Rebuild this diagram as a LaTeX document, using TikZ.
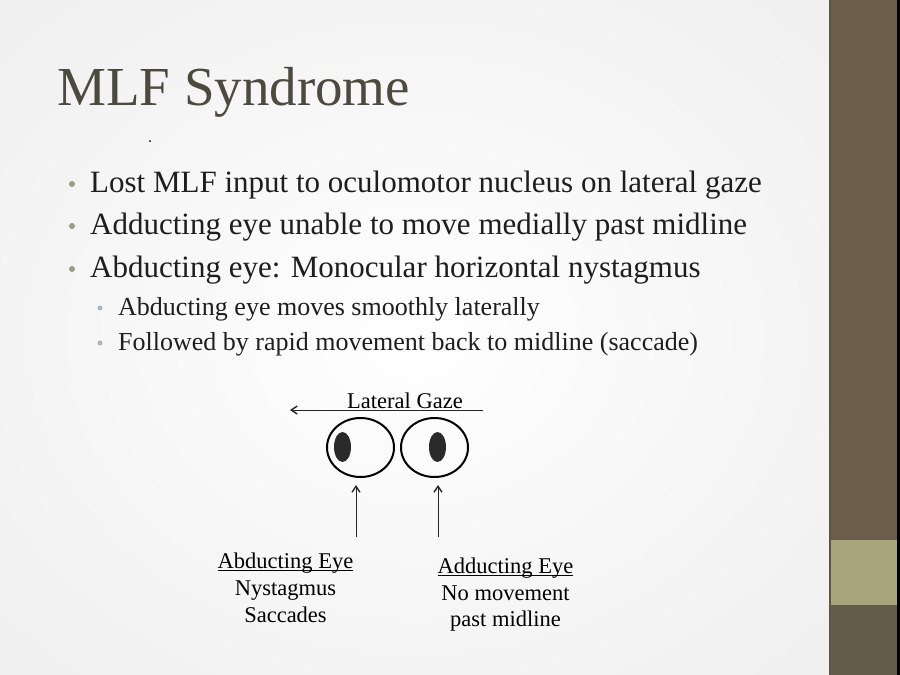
\documentclass[tikz,border=0pt]{standalone}
\usepackage{fontspec}
\setmainfont{Liberation Serif}
\usetikzlibrary{arrows.meta,shapes.geometric}
\definecolor{titlecol}{HTML}{4B4A3F}
\definecolor{bodycol}{HTML}{1E1E1E}
\definecolor{bulcol}{HTML}{9C9C82}
\definecolor{subbulcol}{HTML}{A6B8BF}
\definecolor{barcol}{HTML}{6A5E4B}
\definecolor{barlow}{HTML}{645C4A}
\definecolor{tancol}{HTML}{A8A57D}
\definecolor{edgecol}{HTML}{5A5545}
\definecolor{pupcol}{HTML}{2A2A2A}
\newcommand\myul[1]{\setbox0\hbox{#1}\rlap{\rule[-3pt]{\wd0}{0.9pt}}\box0}
\begin{document}
\begin{tikzpicture}[x=1pt,y=-1pt,
  titletext/.style={anchor=base west,inner sep=0pt,text=titlecol,font=\fontsize{55}{60}\selectfont},
  bultext/.style={anchor=base west,inner sep=0pt,text=bodycol,font=\fontsize{31}{36}\selectfont},
  subtext/.style={anchor=base west,inner sep=0pt,text=bodycol,font=\fontsize{26}{30}\selectfont},
  bigdot/.style={circle,fill=bulcol,inner sep=0pt,minimum size=6pt},
  smalldot/.style={circle,fill=subbulcol,inner sep=0pt,minimum size=5pt},
  labtext/.style={anchor=base,inner sep=0pt,text=black,font=\fontsize{22.5}{26}\selectfont},
  eyeball/.style={ellipse,draw=black,line width=2pt,minimum width=67pt,minimum height=59pt,inner sep=0pt},
  pupil/.style={ellipse,fill=pupcol,minimum width=17pt,minimum height=30pt,inner sep=0pt},
  thinarrow/.style={line width=1pt,draw=black!85,-{Straight Barb[length=6pt,width=8pt,line width=1.4pt]}}
]
\useasboundingbox (0,0) rectangle (900,675);
% background
\fill[white] (0,0) rectangle (830,675);
\shade[inner color=white,outer color=black!6] (-150,-120) rectangle (980,795);
\fill[barcol] (830,0) rectangle (897,540);
\fill[tancol] (830,540) rectangle (897,605);
\fill[barlow] (830,605) rectangle (897,675);
\fill[edgecol] (829,0) rectangle (831,675);
\fill[black] (897,0) rectangle (900,675);
% title
\node[titletext] (title) at (57,105) {MLF Syndrome};
\fill[black] (150,141) circle (1pt);
% bullets
\node[bigdot] (d1) at (72,184) {};
\node[bultext] (b1) at (90,192) {Lost MLF input to oculomotor nucleus on lateral gaze};
\node[bigdot] (d2) at (72,226) {};
\node[bultext] (b2) at (90,234) {Adducting eye unable to move medially past midline};
\node[bigdot] (d3) at (72,269) {};
\node[bultext] (b3) at (90,277) {Abducting eye: Monocular horizontal nystagmus};
\node[smalldot] (s1) at (100,308) {};
\node[subtext] (t1) at (118,315) {Abducting eye moves smoothly laterally};
\node[smalldot] (s2) at (100,343) {};
\node[subtext] (t2) at (118,350) {Followed by rapid movement back to midline (saccade)};
% diagram
\node[labtext] (gaze) at (405,408) {Lateral Gaze};
\coordinate (gazeR) at (483,410);
\coordinate (gazeL) at (290,410);
\draw[thinarrow] (gazeR) -- (gazeL);
\node[eyeball] (eyeL) at (360.5,447.5) {};
\node[eyeball] (eyeR) at (434.5,447.5) {};
\node[pupil] (pupL) at (342.5,447) {};
\node[pupil] (pupR) at (437.5,447) {};
\coordinate (arLs) at (356,537);
\coordinate (arLe) at (356,485);
\coordinate (arRs) at (438,537);
\coordinate (arRe) at (438,485);
\draw[thinarrow] (arLs) -- (arLe);
\draw[thinarrow] (arRs) -- (arRe);
\node[labtext] (abd1) at (285.5,568) {\myul{Abducting Eye}};
\node[labtext] (abd2) at (285.5,595) {Nystagmus};
\node[labtext] (abd3) at (285.5,622) {Saccades};
\node[labtext] (add1) at (505.5,573) {\myul{Adducting Eye}};
\node[labtext] (add2) at (505.5,600) {No movement};
\node[labtext] (add3) at (505.5,626) {past midline};
\end{tikzpicture}
\end{document}
